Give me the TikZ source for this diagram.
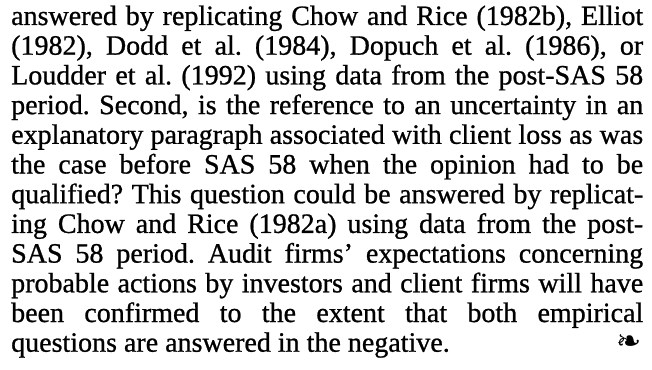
\documentclass[tikz,border=0pt]{standalone}
\usepackage{fontspec}
\setmainfont[FakeBold=0.8]{Liberation Serif}
\newfontfamily\ornfont{DejaVu Sans}
\hbadness=10000
\frenchspacing
\tikzset{
  txtline/.style={anchor=base west, inner sep=0pt, font=\fontsize{28}{30}\selectfont},
  endmark/.style={anchor=base east, inner sep=0pt, font=\ornfont\fontsize{30}{32}\selectfont}
}
\begin{document}
\begin{tikzpicture}[x=1pt,y=-1pt]
\useasboundingbox (0,0) rectangle (652,369);
% justified lines
\node[txtline] (l1) at (11,25.0) {\hbox to 632pt{answered by replicating Chow and Rice (1982b), Elliot}};
\node[txtline] (l2) at (11,54.7) {\hbox to 632pt{(1982), Dodd et al. (1984), Dopuch et al. (1986), or}};
\node[txtline] (l3) at (11,84.4) {\hbox to 632pt{Loudder et al. (1992) using data from the post-SAS 58}};
\node[txtline] (l4) at (11,114.1) {\hbox to 632pt{period. Second, is the reference to an uncertainty in an}};
\node[txtline] (l5) at (11,143.8) {\hbox to 632pt{explanatory paragraph associated with client loss as was}};
\node[txtline] (l6) at (11,173.5) {\hbox to 632pt{the case before SAS 58 when the opinion had to be}};
\node[txtline] (l7) at (11,203.2) {\hbox to 632pt{qualified? This question could be answered by replicat-}};
\node[txtline] (l8) at (11,232.9) {\hbox to 632pt{ing Chow and Rice (1982a) using data from the post-}};
\node[txtline] (l9) at (11,262.6) {\hbox to 632pt{SAS 58 period. Audit firms’ expectations concerning}};
\node[txtline] (l10) at (11,292.3) {\hbox to 632pt{probable actions by investors and client firms will have}};
\node[txtline] (l11) at (11,322.0) {\hbox to 632pt{been confirmed to the extent that both empirical}};
% last line and end mark
\node[txtline] (l12) at (11,351.7) {questions are answered in the negative.};
\node[endmark] (orn) at (642,351.7) {❧};
\end{tikzpicture}
\end{document}
